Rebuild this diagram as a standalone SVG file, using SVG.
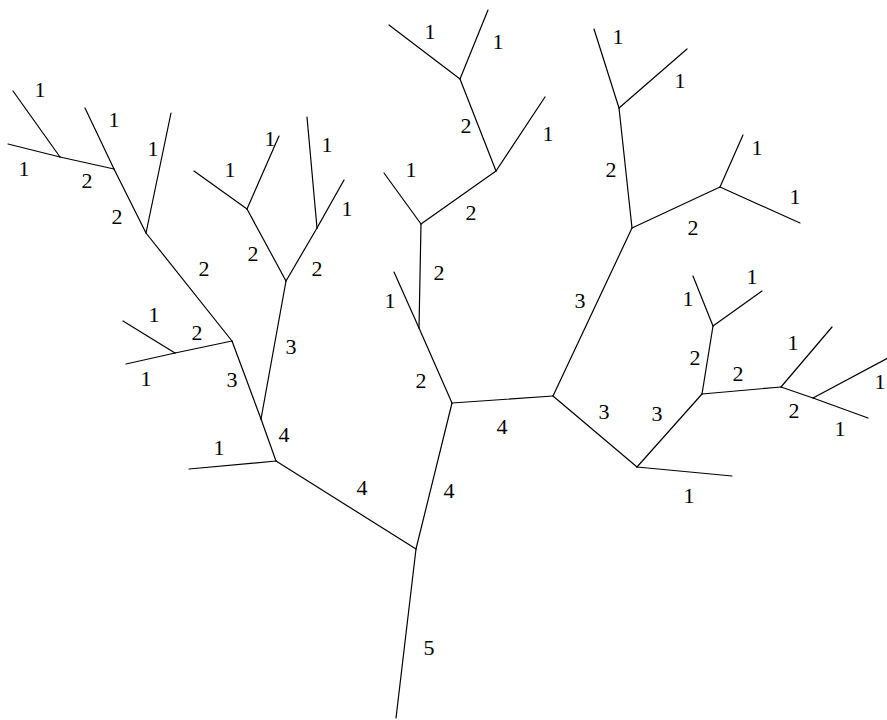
<svg xmlns="http://www.w3.org/2000/svg" width="887" height="720" viewBox="0 0 887 720">
<style>
line{stroke:#000;stroke-width:1.2;stroke-linecap:round}
.lb{font-family:'Liberation Serif','Times New Roman','DejaVu Serif',serif;font-size:22px;fill:#000;text-anchor:middle}
</style>
<rect width="887" height="720" fill="#fff"/>
<g id="connectors">
<line x1="396" y1="718" x2="416" y2="549"/>
<line x1="416" y1="549" x2="276" y2="461"/>
<line x1="416" y1="549" x2="452" y2="403"/>
<line x1="276" y1="461" x2="189" y2="469"/>
<line x1="276" y1="461" x2="261" y2="419"/>
<line x1="261" y1="419" x2="232" y2="341"/>
<line x1="261" y1="419" x2="286" y2="281"/>
<line x1="232" y1="341" x2="175" y2="353"/>
<line x1="232" y1="341" x2="146" y2="233"/>
<line x1="175" y1="353" x2="123" y2="321"/>
<line x1="175" y1="353" x2="126" y2="364"/>
<line x1="146" y1="233" x2="114" y2="169"/>
<line x1="146" y1="233" x2="171" y2="113"/>
<line x1="114" y1="169" x2="85" y2="108"/>
<line x1="114" y1="169" x2="60" y2="157"/>
<line x1="60" y1="157" x2="13" y2="91"/>
<line x1="60" y1="157" x2="8" y2="144"/>
<line x1="286" y1="281" x2="247" y2="209"/>
<line x1="286" y1="281" x2="317" y2="228"/>
<line x1="247" y1="209" x2="194" y2="171"/>
<line x1="247" y1="209" x2="279" y2="136"/>
<line x1="317" y1="228" x2="307" y2="117"/>
<line x1="317" y1="228" x2="344" y2="180"/>
<line x1="452" y1="403" x2="419" y2="328"/>
<line x1="452" y1="403" x2="553" y2="396"/>
<line x1="419" y1="328" x2="394" y2="272"/>
<line x1="419" y1="328" x2="421" y2="224"/>
<line x1="421" y1="224" x2="384" y2="173"/>
<line x1="421" y1="224" x2="496" y2="171"/>
<line x1="496" y1="171" x2="460" y2="79"/>
<line x1="496" y1="171" x2="545" y2="97"/>
<line x1="460" y1="79" x2="389" y2="25"/>
<line x1="460" y1="79" x2="488" y2="10"/>
<line x1="553" y1="396" x2="632" y2="228"/>
<line x1="553" y1="396" x2="637" y2="467"/>
<line x1="632" y1="228" x2="619" y2="108"/>
<line x1="632" y1="228" x2="720" y2="187"/>
<line x1="619" y1="108" x2="594" y2="29"/>
<line x1="619" y1="108" x2="687" y2="49"/>
<line x1="720" y1="187" x2="743" y2="135"/>
<line x1="720" y1="187" x2="800" y2="223"/>
<line x1="637" y1="467" x2="732" y2="476"/>
<line x1="637" y1="467" x2="702" y2="394"/>
<line x1="702" y1="394" x2="713" y2="326"/>
<line x1="702" y1="394" x2="781" y2="387"/>
<line x1="713" y1="326" x2="693" y2="276"/>
<line x1="713" y1="326" x2="762" y2="291"/>
<line x1="781" y1="387" x2="832" y2="327"/>
<line x1="781" y1="387" x2="813" y2="398"/>
<line x1="813" y1="398" x2="888" y2="358"/>
<line x1="813" y1="398" x2="868" y2="418"/>
</g>
<g id="labels" class="lb" font-family="'Liberation Serif', serif">
<text x="40" y="97">1</text>
<text x="114" y="127">1</text>
<text x="153" y="156">1</text>
<text x="24" y="176">1</text>
<text x="87" y="188">2</text>
<text x="117" y="224">2</text>
<text x="230" y="177">1</text>
<text x="270" y="146">1</text>
<text x="327" y="152">1</text>
<text x="347" y="216">1</text>
<text x="253" y="261">2</text>
<text x="317" y="276">2</text>
<text x="204" y="276">2</text>
<text x="154" y="322">1</text>
<text x="197" y="340">2</text>
<text x="146" y="386">1</text>
<text x="232" y="387">3</text>
<text x="291" y="354">3</text>
<text x="284" y="442">4</text>
<text x="219" y="455">1</text>
<text x="362" y="495">4</text>
<text x="449" y="498">4</text>
<text x="429" y="655">5</text>
<text x="430" y="39">1</text>
<text x="498" y="49">1</text>
<text x="466" y="133">2</text>
<text x="548" y="141">1</text>
<text x="411" y="177">1</text>
<text x="471" y="220">2</text>
<text x="439" y="280">2</text>
<text x="390" y="308">1</text>
<text x="421" y="388">2</text>
<text x="502" y="434">4</text>
<text x="618" y="44">1</text>
<text x="680" y="88">1</text>
<text x="611" y="177">2</text>
<text x="757" y="155">1</text>
<text x="795" y="204">1</text>
<text x="693" y="235">2</text>
<text x="580" y="308">3</text>
<text x="752" y="284">1</text>
<text x="688" y="306">1</text>
<text x="695" y="365">2</text>
<text x="793" y="350">1</text>
<text x="738" y="381">2</text>
<text x="604" y="419">3</text>
<text x="657" y="421">3</text>
<text x="794" y="418">2</text>
<text x="840" y="436">1</text>
<text x="880" y="389">1</text>
<text x="689" y="503">1</text>
</g>
</svg>
